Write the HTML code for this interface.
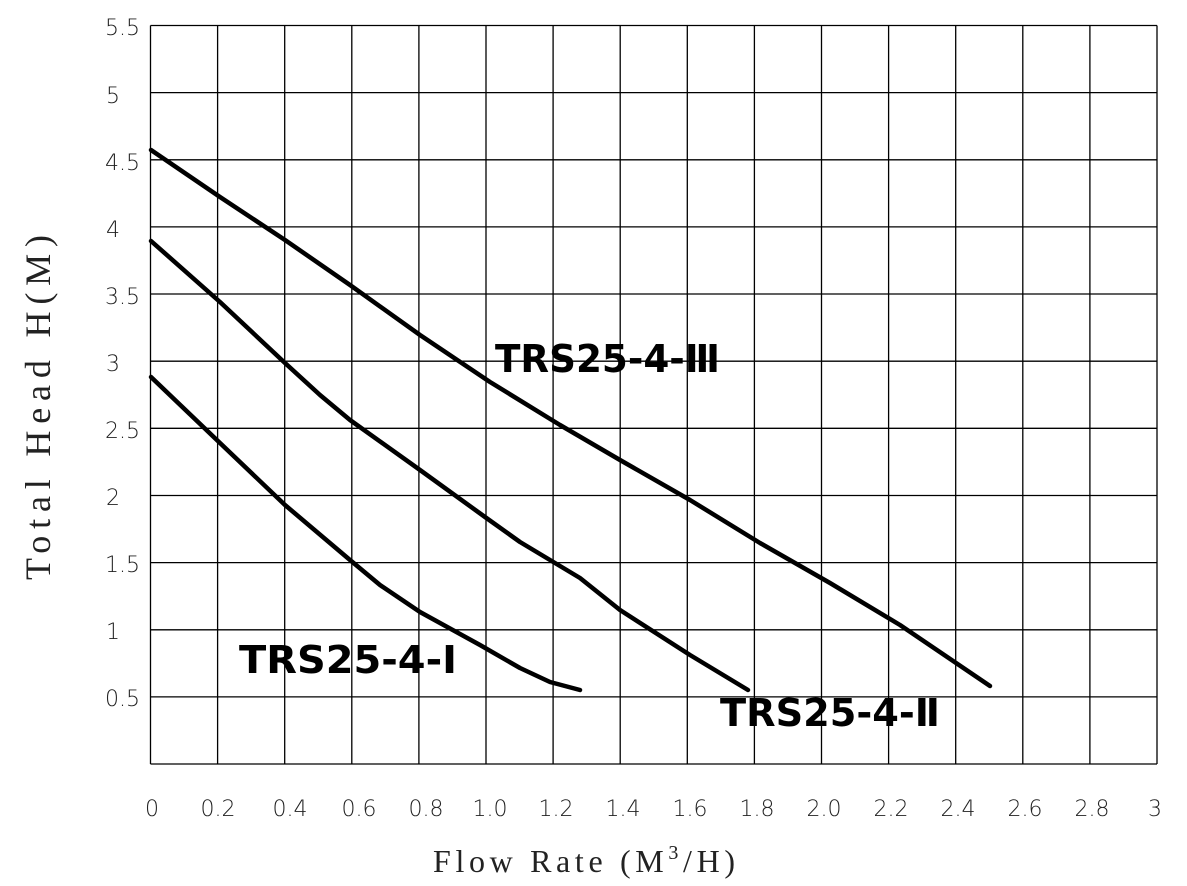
<!DOCTYPE html>
<html><head><meta charset="utf-8"><style>body{margin:0;background:#fff}</style></head><body>
<svg width="1187" height="881" viewBox="0 0 1187 881" xmlns="http://www.w3.org/2000/svg">
<g stroke="#000" stroke-width="1.3" fill="none">
<path d="M150.5 25.5V764M217.6 25.5V764M284.7 25.5V764M351.8 25.5V764M418.9 25.5V764M486 25.5V764M553.1 25.5V764M620.2 25.5V764M687.3 25.5V764M754.4 25.5V764M821.5 25.5V764M888.6 25.5V764M955.7 25.5V764M1022.8 25.5V764M1089.9 25.5V764M1157 25.5V764"/>
<path d="M150.5 25.5H1157M150.5 92.6H1157M150.5 159.8H1157M150.5 226.9H1157M150.5 294H1157M150.5 361.2H1157M150.5 428.3H1157M150.5 495.5H1157M150.5 562.6H1157M150.5 629.8H1157M150.5 696.9H1157M150.5 764H1157"/>
</g>
<g stroke="#000" stroke-width="4.5" fill="none" stroke-linecap="round" stroke-linejoin="round">
<polyline points="151,150 220,197 285,240 350,285 420,335 490,382 560,425 620,460 690,500 760,543 830,583 900,625 990,686"/>
<polyline points="151,241 220,302 285,363 320,395 350,420 420,470 485,517 520,542 580,578 620,610 690,655 748,690"/>
<polyline points="151,377 220,443 285,505 350,560 380,585 420,612 480,645 520,668 550,682 580,690"/>
</g>
<g font-family="DejaVu Sans, Liberation Sans, sans-serif" font-size="22" fill="#222" text-anchor="end" font-weight="300">
<text x="140" y="35">5.5</text><text x="120" y="103">5</text><text x="140" y="170">4.5</text><text x="120" y="237">4</text><text x="140" y="304">3.5</text><text x="120" y="371">3</text><text x="140" y="438">2.5</text><text x="120" y="505">2</text><text x="140" y="572">1.5</text><text x="120" y="639">1</text><text x="140" y="706">0.5</text>
</g>
<g font-family="DejaVu Sans, Liberation Sans, sans-serif" font-size="22" fill="#222" text-anchor="middle" font-weight="300">
<text x="152" y="816">0</text><text x="218" y="816">0.2</text><text x="290" y="816">0.4</text><text x="359" y="816">0.6</text><text x="426" y="816">0.8</text><text x="490" y="816">1.0</text><text x="556" y="816">1.2</text><text x="623" y="816">1.4</text><text x="690" y="816">1.6</text><text x="757" y="816">1.8</text><text x="824" y="816">2.0</text><text x="891" y="816">2.2</text><text x="958" y="816">2.4</text><text x="1025" y="816">2.6</text><text x="1092" y="816">2.8</text><text x="1155" y="816">3</text>
</g>
<g font-family="DejaVu Sans, Liberation Sans, sans-serif" font-size="38" font-weight="bold" fill="#000">
<text x="495" y="372" textLength="225" lengthAdjust="spacingAndGlyphs">TRS25-4-Ⅲ</text>
<text x="239" y="673" textLength="218" lengthAdjust="spacingAndGlyphs">TRS25-4-Ⅰ</text>
<text x="720" y="726" textLength="220" lengthAdjust="spacingAndGlyphs">TRS25-4-Ⅱ</text>
</g>
<text x="433" y="872" font-family="Liberation Serif, serif" font-size="32" fill="#222" textLength="302" lengthAdjust="spacing">Flow Rate (M<tspan font-size="20" dy="-13">3</tspan><tspan dy="13">/H)</tspan></text>
<text transform="translate(50,580) rotate(-90)" font-family="Liberation Serif, serif" font-size="36" fill="#222" textLength="345" lengthAdjust="spacing">Total Head H(M)</text>
</svg>
</body></html>
